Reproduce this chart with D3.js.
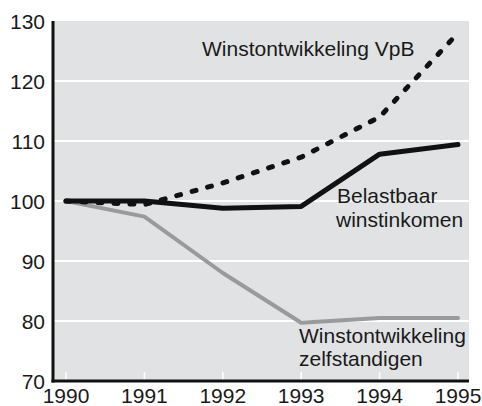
<!DOCTYPE html>
<html>
<head>
<meta charset="utf-8">
<script src="https://cdn.jsdelivr.net/npm/d3@7"></script>
<style>
  body { margin: 0; background: #fff; }
  text { font-family: "Liberation Sans", Arial, sans-serif; fill: #1a1a1a; }
</style>
</head>
<body>
<svg id="chart"></svg>
<script>
var years = [1990, 1991, 1992, 1993, 1994, 1995];
var vpb = [100, 99.4, 103, 107.3, 114, 128];
var belastbaar = [100, 100, 98.8, 99.1, 107.8, 109.4];
var zelfstandigen = [100, 97.4, 88, 79.7, 80.5, 80.5];
var yTicks = [70, 80, 90, 100, 110, 120, 130];

var width = 482, height = 406;
var plot = {left: 53, right: 469, top: 21, bottom: 381};

var x = d3.scaleLinear().domain([1990, 1995]).range([66, 458]);
var y = d3.scaleLinear().domain([70, 130]).range([plot.bottom, plot.top]);

var svg = d3.select("#chart")
  .attr("width", width)
  .attr("height", height);

// background
svg.append("rect")
  .attr("x", plot.left)
  .attr("y", plot.top)
  .attr("width", plot.right - plot.left)
  .attr("height", plot.bottom - plot.top)
  .attr("fill", "#e1e2e4");

// white gridlines
svg.selectAll(".grid")
  .data(yTicks.filter(function(d) { return d > 70 && d < 130; }))
  .enter()
  .append("line")
  .attr("x1", plot.left)
  .attr("x2", plot.right)
  .attr("y1", function(d) { return y(d); })
  .attr("y2", function(d) { return y(d); })
  .attr("stroke", "#fff")
  .attr("stroke-width", 2);

// small white ticks at the bottom
svg.selectAll(".xtick")
  .data(years)
  .enter()
  .append("line")
  .attr("x1", function(d) { return x(d); })
  .attr("x2", function(d) { return x(d); })
  .attr("y1", plot.bottom - 9)
  .attr("y2", plot.bottom)
  .attr("stroke", "#fff")
  .attr("stroke-width", 1.5);

var line = d3.line()
  .x(function(d, i) { return x(years[i]); })
  .y(function(d) { return y(d); });

svg.append("path")
  .attr("d", line(zelfstandigen))
  .attr("fill", "none")
  .attr("stroke", "#999a9c")
  .attr("stroke-width", 4)
  .attr("stroke-linecap", "round")
  .attr("stroke-linejoin", "round");

svg.append("path")
  .attr("d", line(belastbaar))
  .attr("fill", "none")
  .attr("stroke", "#111")
  .attr("stroke-width", 5)
  .attr("stroke-linecap", "round")
  .attr("stroke-linejoin", "round");

svg.append("path")
  .attr("d", line(vpb))
  .attr("fill", "none")
  .attr("stroke", "#111")
  .attr("stroke-width", 5)
  .attr("stroke-dasharray", "4,12")
  .attr("stroke-linecap", "round")
  .attr("stroke-linejoin", "round");

// axes
svg.append("line")
  .attr("x1", plot.left).attr("x2", plot.left)
  .attr("y1", plot.top).attr("y2", plot.bottom + 1.5)
  .attr("stroke", "#111").attr("stroke-width", 3);

svg.append("line")
  .attr("x1", plot.left - 1.5).attr("x2", plot.right)
  .attr("y1", plot.bottom).attr("y2", plot.bottom)
  .attr("stroke", "#111").attr("stroke-width", 3);

// y labels
svg.selectAll(".ylabel")
  .data(yTicks)
  .enter()
  .append("text")
  .attr("x", 45)
  .attr("y", function(d) { return y(d) + 8; })
  .attr("text-anchor", "end")
  .attr("font-size", 21)
  .text(function(d) { return d; });

// x labels
svg.selectAll(".xlabel")
  .data(years)
  .enter()
  .append("text")
  .attr("x", function(d) { return x(d); })
  .attr("y", 403)
  .attr("text-anchor", "middle")
  .attr("font-size", 21)
  .text(function(d) { return d; });

// annotations
svg.append("text")
  .attr("x", 202).attr("y", 56)
  .attr("font-size", 21)
  .text("Winstontwikkeling VpB");

svg.append("text")
  .attr("x", 337).attr("y", 203)
  .attr("font-size", 21)
  .text("Belastbaar");

svg.append("text")
  .attr("x", 336).attr("y", 227)
  .attr("font-size", 21)
  .text("winstinkomen");

svg.append("text")
  .attr("x", 299).attr("y", 343)
  .attr("font-size", 21)
  .text("Winstontwikkeling");

svg.append("text")
  .attr("x", 299).attr("y", 366)
  .attr("font-size", 21)
  .text("zelfstandigen");
</script>
</body>
</html>
